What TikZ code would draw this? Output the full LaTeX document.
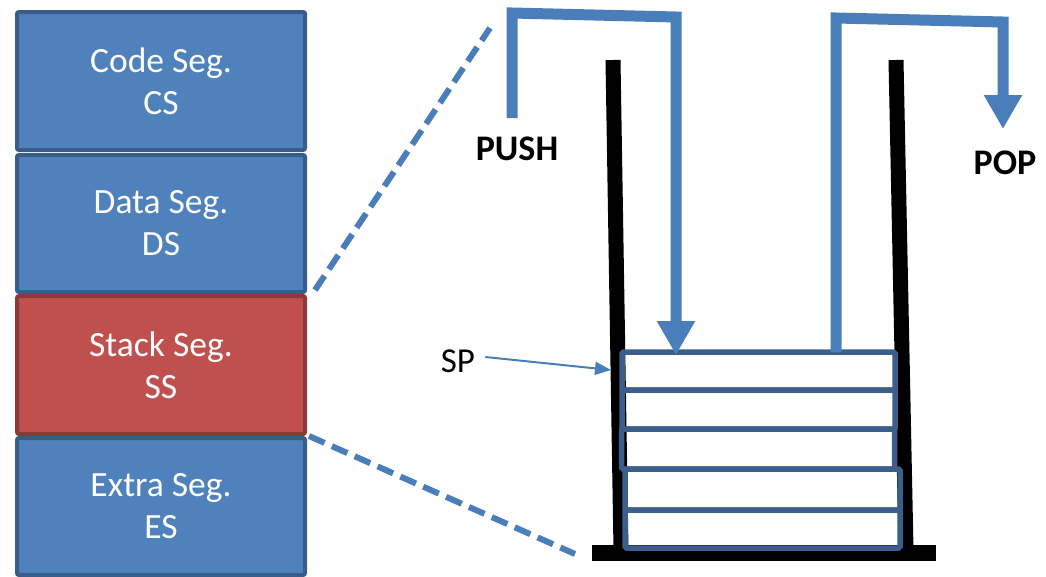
\documentclass[tikz,border=0pt]{standalone}
\usepackage{fontspec}
\setmainfont{Carlito}
\usetikzlibrary{arrows.meta}
\definecolor{segblue}{HTML}{4F81BD}
\definecolor{segblueborder}{HTML}{385D8A}
\definecolor{segred}{HTML}{C0504D}
\definecolor{segredborder}{HTML}{8C3A37}
\definecolor{arrowblue}{HTML}{4A7EBB}
\definecolor{slotborder}{HTML}{3B5E8C}
\tikzset{
  segbox/.style={draw=segblueborder, fill=segblue, line width=4pt, rounded corners=2pt,
    minimum width=288pt, inner sep=0pt, align=center, text=white,
    font=\fontsize{35.5}{42}\selectfont},
  segredbox/.style={segbox, draw=segredborder, fill=segred},
  zoomline/.style={arrowblue, line width=6pt, dash pattern=on 17pt off 8pt},
  wall/.style={black, line width=15pt},
  slotbox/.style={draw=slotborder, line width=5.5pt, rounded corners=1.5pt, inner sep=0pt, fill=none},
  bigarrow/.style={arrowblue, line width=11pt, -{Triangle[length=34pt,width=36pt]}},
  lbl/.style={font=\bfseries\fontsize{36}{40}\selectfont, inner sep=0pt},
}
\begin{document}
\begin{tikzpicture}[x=1pt,y=-1pt]
\useasboundingbox (0,0) rectangle (1046,576);
% segment boxes
\node[segbox, minimum height=138pt] (cs) at (161,81) {Code Seg.\\CS};
\node[segbox, minimum height=137pt] (ds) at (161,223.5) {Data Seg.\\DS};
\node[segredbox, minimum height=138pt] (ss) at (161,365) {Stack Seg.\\SS};
\node[segbox, minimum height=137pt] (es) at (161,506.5) {Extra Seg.\\ES};
% zoom lines
\coordinate (zt) at (490,28);
\coordinate (zb) at (575,554);
\draw[zoomline] (ss.north east) ++(8,-4) -- (zt);
\draw[zoomline] (es.north east) ++(2,0) -- (zb);
% stack container
\coordinate (lwt) at (613,60);
\coordinate (lwb) at (621,550);
\coordinate (rwt) at (896,60);
\coordinate (rwb) at (906,550);
\draw[wall] (lwt) -- (lwb);
\draw[wall] (rwt) -- (rwb);
\fill[black] (592,545) rectangle (936,561);
% slots
\node[slotbox, minimum width=273pt, minimum height=38pt] (s1) at (758.5,371) {};
\node[slotbox, minimum width=273pt, minimum height=39pt] (s2) at (758.5,409.5) {};
\node[slotbox, minimum width=273pt, minimum height=40pt] (s3) at (758,449) {};
\node[slotbox, minimum width=275pt, minimum height=41pt] (s4) at (762.5,489.5) {};
\node[slotbox, minimum width=275pt, minimum height=38pt] (s5) at (762.5,529) {};
% labels
\node[lbl] (push) at (517,149) {PUSH};
\node[lbl] (pop) at (1005,163) {POP};
\node[font=\fontsize{35}{40}\selectfont, inner sep=0pt] (sp) at (458,361) {SP};
% push arrow
\coordinate (pushstart) at (512,118);
\coordinate (pushtip) at (676,355);
\draw[bigarrow] (pushstart) -- (512,13) -- (676,17) -- (pushtip);
% pop arrow
\coordinate (popstart) at (836,352);
\coordinate (poptip) at (1003,129);
\draw[bigarrow] (popstart) -- (836,18) -- (1003,22) -- (poptip);
% SP arrow
\coordinate (sptip) at (611,370);
\draw[arrowblue, line width=2pt, -{Triangle[length=16pt,width=13pt]}] (sp.east) ++(10,-4) -- (sptip);
\end{tikzpicture}
\end{document}
